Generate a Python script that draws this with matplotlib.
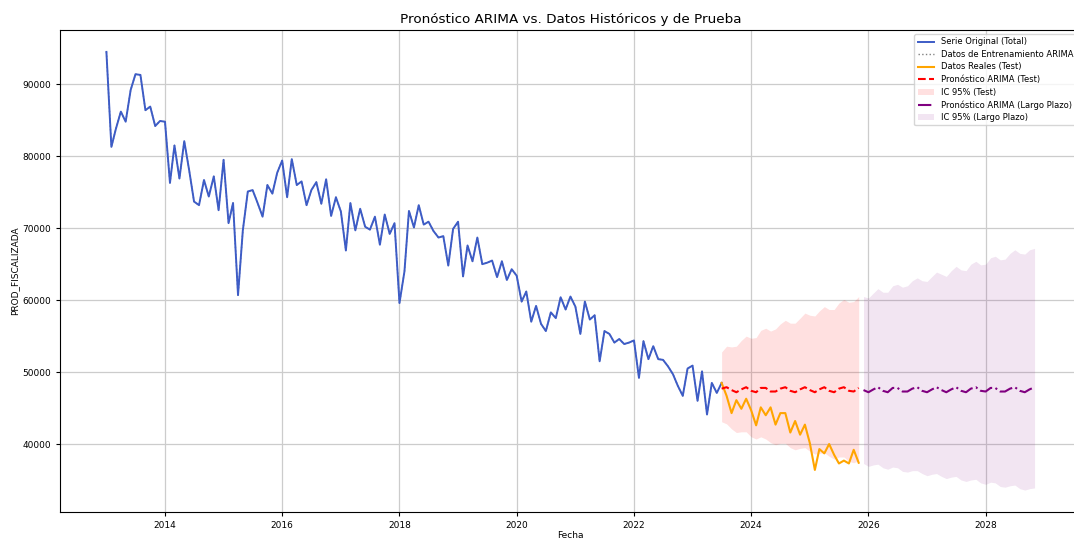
import matplotlib
matplotlib.use("Agg")
import matplotlib.pyplot as plt
import pandas as pd

# ---------------- data ----------------
train_start = "2013-01-01"
train_values = [
    94500, 81300, 83800, 86200, 84800, 89200, 91400, 91300, 86400, 86900, 84200, 84900,
    84800, 76300, 81500, 76900, 82100, 78000, 73700, 73200, 76700, 74400, 77200, 72500,
    79500, 70700, 73500, 60700, 69700, 75100, 75300, 73500, 71600, 76000, 74800, 77700,
    79400, 74300, 79600, 76000, 76500, 73200, 75300, 76400, 73400, 76800, 71700, 74300,
    72300, 66900, 73500, 69700, 72700, 70200, 69800, 71600, 67700, 71900, 69200, 70700,
    59600, 64000, 72400, 70100, 73200, 70500, 70900, 69600, 68700, 68900, 64800, 69900,
    70900, 63300, 67600, 65400, 68700, 65000, 65200, 65500, 63200, 65400, 62800, 64300,
    63400, 59800, 61200, 57000, 59200, 56700, 55700, 58300, 57500, 60400, 58700, 60500,
    59100, 55300, 59800, 57300, 57900, 51500, 55700, 55300, 54100, 54600, 53900, 54100,
    54400, 49200, 54300, 51800, 53600, 51800, 51700, 50800, 49700, 48100, 46700, 50500,
    50900, 46000, 50100, 44100, 48500, 47100,
]

test_start = "2023-07-01"
test_values = [
    48500, 46700, 44300, 46100, 44900, 46300, 44700, 42600, 45100, 44000,
    45100, 42700, 44300, 44300, 41600, 43200, 41300, 42700, 40100, 36400,
    39300, 38700, 40000, 38500, 37300, 37700, 37300, 39200, 37400,
]

fc_test = [
    47700, 47900, 47500, 47200, 47600, 47900, 47400, 47200, 47800, 47800,
    47300, 47300, 47700, 47900, 47400, 47200, 47600, 47900, 47500, 47200,
    47600, 47900, 47400, 47200, 47700, 47900, 47400, 47300, 47800,
]
ci_test_upper = [
    52800, 53600, 53500, 53600, 54400, 55000, 54700, 54800, 55800, 56100,
    55700, 56000, 56700, 57200, 56800, 56800, 57500, 58200, 57900, 57800,
    58500, 59100, 58700, 58700, 59600, 60100, 59700, 59800, 60500,
]
ci_test_lower = [
    43100, 42800, 42100, 41600, 41700, 41700, 41000, 40700, 41000, 40700,
    40200, 39900, 40100, 40100, 39500, 39200, 39400, 39500, 39000, 38600,
    38700, 38800, 38300, 37900, 38200, 38200, 37600, 37400, 37700,
]

long_start = "2025-12-01"
fc_long = [
    47500, 47200, 47600, 47900, 47400, 47200, 47800, 47800, 47300, 47300,
    47700, 47900, 47400, 47200, 47600, 47900, 47500, 47200, 47600, 47900,
    47400, 47200, 47700, 47900, 47400, 47300, 47800, 47800, 47300, 47300,
    47700, 47900, 47400, 47200, 47600, 47900,
]
ci_long_upper = [
    60500, 60300, 61000, 61600, 61100, 61100, 62000, 62200, 61800, 62000,
    62700, 63100, 62700, 62600, 63300, 63900, 63600, 63300, 64100, 64700,
    64200, 64100, 65000, 65400, 64900, 65000, 65900, 66100, 65600, 65700,
    66500, 67000, 66500, 66400, 67000, 67200,
]
ci_long_lower = [
    37300, 36900, 37100, 37200, 36700, 36500, 36800, 36700, 36200, 36100,
    36300, 36300, 35900, 35600, 35800, 35900, 35500, 35200, 35400, 35500,
    35000, 34800, 35000, 35100, 34600, 34400, 34700, 34600, 34100, 34000,
    34200, 34300, 33800, 33600, 33800, 33900,
]

# ---------------- dates ----------------
train_dates = pd.date_range(train_start, periods=len(train_values), freq="MS")
test_dates = pd.date_range(test_start, periods=len(test_values), freq="MS")
long_dates = pd.date_range(long_start, periods=len(fc_long), freq="MS")

orig_dates = train_dates.append(test_dates[:1])
orig_values = train_values + test_values[:1]

# ---------------- plot ----------------
W, H = 1074, 539
fig = plt.figure(figsize=(W / 100, H / 100), dpi=100)
ax = fig.add_axes([60 / W, (H - 512) / H, (1081 - 60) / W, (512 - 30) / H])

ax.plot(train_dates, train_values, color="gray", linestyle=":", linewidth=1.0,
        label="Datos de Entrenamiento ARIMA", zorder=1)
ax.plot(orig_dates, orig_values, color="#3d5cc6", linewidth=1.4,
        label="Serie Original (Total)", zorder=2)
ax.plot(test_dates, test_values, color="orange", linewidth=1.5,
        label="Datos Reales (Test)", zorder=3)
ax.plot(test_dates, fc_test, color="red", linestyle="--", linewidth=1.5,
        label="Pronóstico ARIMA (Test)", zorder=4)
ax.fill_between(test_dates, ci_test_lower, ci_test_upper, color="red", alpha=0.12,
                linewidth=0, label="IC 95% (Test)")
ax.plot(long_dates, fc_long, color="purple", linestyle="-.", linewidth=1.5,
        label="Pronóstico ARIMA (Largo Plazo)", zorder=4)
ax.fill_between(long_dates, ci_long_lower, ci_long_upper, color="purple", alpha=0.10,
                linewidth=0, label="IC 95% (Largo Plazo)")

ax.grid(True, color="#cccccc", linewidth=0.9)
ax.set_axisbelow(True)
ax.tick_params(labelsize=6.5, length=3)
ax.set_title("Pronóstico ARIMA vs. Datos Históricos y de Prueba", fontsize=9.7, pad=5)
ax.set_xlabel("Fecha", fontsize=6.5, labelpad=1)
ax.set_ylabel("PROD_FISCALIZADA", fontsize=6.5, labelpad=2)

handles, labels = ax.get_legend_handles_labels()
order = ["Serie Original (Total)", "Datos de Entrenamiento ARIMA", "Datos Reales (Test)",
         "Pronóstico ARIMA (Test)", "IC 95% (Test)", "Pronóstico ARIMA (Largo Plazo)",
         "IC 95% (Largo Plazo)"]
hmap = dict(zip(labels, handles))
ax.legend([hmap[l] for l in order], order, loc="upper right", fontsize=6.0,
          labelspacing=0.42, framealpha=0.8, borderaxespad=0.5)

fig.savefig("out.png", dpi=100)
